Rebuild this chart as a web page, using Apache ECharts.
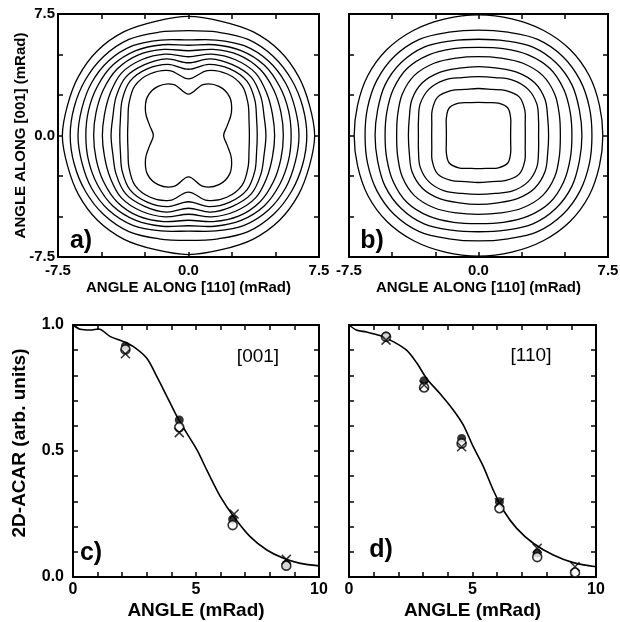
<!DOCTYPE html>
<html><head><meta charset="utf-8">
<script src="https://cdn.jsdelivr.net/npm/echarts/dist/echarts.min.js"></script>
<style>html,body{margin:0;padding:0;background:#fff}#c{width:620px;height:622px}</style>
</head><body><div id="c"></div>
<script>
// ---------- data ----------
// contour radii (mRad) sampled at these angles in the first quadrant, mirrored to the others
const contourAngles = [0, 15, 30, 45, 60, 75, 90];
const contoursA = [
  [7.25, 7.2, 7.3, 7.4, 7.4, 7.3, 7.35],
  [6.8, 6.8, 6.85, 6.9, 6.85, 6.6, 6.47],
  [6.35, 6.35, 6.45, 6.5, 6.4, 6.1, 5.9],
  [5.9, 5.95, 6.05, 6.15, 6.05, 5.8, 5.57],
  [5.45, 5.5, 5.65, 5.8, 5.75, 5.5, 5.23],
  [4.95, 5.0, 5.2, 5.45, 5.4, 5.2, 4.86],
  [4.45, 4.5, 4.8, 5.1, 5.05, 4.9, 4.49],
  [3.95, 4.05, 4.4, 4.75, 4.75, 4.55, 4.09],
  [3.5, 3.6, 3.95, 4.35, 4.4, 4.15, 3.49],
  [2.02, 2.3, 2.85, 3.35, 3.5, 3.25, 2.55]
];
const contoursB = [
  [7.2, 7.25, 7.4, 7.5, 7.5, 7.45, 7.44],
  [6.57, 6.65, 6.8, 6.9, 6.85, 6.6, 6.51],
  [5.99, 6.05, 6.25, 6.35, 6.3, 6.05, 5.94],
  [5.41, 5.5, 5.7, 5.85, 5.75, 5.55, 5.44],
  [4.74, 4.85, 5.1, 5.25, 5.15, 4.95, 4.87],
  [4.06, 4.15, 4.45, 4.6, 4.5, 4.3, 4.25],
  [3.48, 3.6, 3.9, 4.05, 3.95, 3.7, 3.63],
  [2.71, 2.8, 3.1, 3.35, 3.2, 2.95, 2.9],
  [1.86, 1.93, 2.15, 2.4, 2.3, 2.1, 2.05]
];
// panel c, [001]
const curveC = [[0,1.0],[0.3,0.983],[0.7,0.98],[1.04,0.984],[1.52,0.954],[2.06,0.934],[2.46,0.914],[3.0,0.868],[3.41,0.795],[3.82,0.716],[4.23,0.636],[4.63,0.57],[5.04,0.504],[5.44,0.424],[5.99,0.319],[6.53,0.24],[7.2,0.16],[7.88,0.107],[8.56,0.074],[9.24,0.054],[10,0.044]];
const filledC = [[2.13,0.917],[4.32,0.623],[6.49,0.229],[8.67,0.05]];
const openC = [[2.13,0.903],[4.32,0.594],[6.49,0.206],[8.67,0.045]];
const crossC = [[2.13,0.886],[4.32,0.573],[6.55,0.25],[8.67,0.07]];
// panel d, [110]
const curveD = [[0,1.0],[0.3,0.98],[0.71,0.972],[1.25,0.958],[1.79,0.934],[2.33,0.9],[2.74,0.85],[3.14,0.788],[3.68,0.728],[4.22,0.663],[4.63,0.603],[5.03,0.517],[5.44,0.438],[5.84,0.345],[6.25,0.265],[6.79,0.193],[7.46,0.134],[8.27,0.087],[9.08,0.057],[10,0.041]];
const filledD = [[1.5,0.956],[3.04,0.779],[4.56,0.55],[6.09,0.299],[7.62,0.095]];
const openD = [[1.5,0.953],[3.04,0.752],[4.56,0.53],[6.09,0.273],[7.62,0.079],[9.15,0.018]];
const crossD = [[1.5,0.94],[3.04,0.762],[4.56,0.517],[6.09,0.295],[7.62,0.114],[9.15,0.041]];

const contourTicks = ['-7.5', '0.0', '7.5'];
const profileXTicks = ['0', '5', '10'];
const profileYTicks = ['0.0', '0.5', '1.0'];

// ---------- chart ----------
const FONT = '"Liberation Sans", Arial, Helvetica, sans-serif';
const tick = {show:true, inside:true, length:5, lineStyle:{color:'#000', width:1.5}};
function fmtFrom(list, dec){
  return function(v){
    const s = (dec === 0) ? String(Math.round(v)) : v.toFixed(dec);
    const t = (s === '-0.0') ? '0.0' : s;
    return list.indexOf(t) >= 0 && Math.abs(v - parseFloat(t)) < 1e-6 ? t : '';
  };
}
function axis(o){
  const a = {
    type:'value', gridIndex:o.g, min:o.min, max:o.max, interval:o.iv,
    position:o.pos, axisLine:{show:false, onZero:false}, axisTick:tick, splitLine:{show:false},
    axisLabel:{show:!!o.fmt, formatter:o.fmt, fontSize:o.ls||15, fontWeight:'bold', color:'#000',
      fontFamily:FONT, margin:o.lm||6, showMinLabel:true, showMaxLabel:true},
    nameMoveOverlap:false
  };
  if (o.name){
    a.name = o.name; a.nameLocation='middle'; a.nameGap=o.ng;
    a.nameTextStyle = {fontSize:o.ns||15, fontWeight:'bold', color:'#000', fontFamily:FONT, padding:o.np||0};
  }
  return a;
}
const gridBox = {show:true, borderColor:'#000', borderWidth:2, backgroundColor:'transparent', containLabel:false, outerBoundsMode:'none'};
const grids = [
  Object.assign({left:58, top:14, width:261, height:243}, gridBox),
  Object.assign({left:349, top:14, width:259, height:243}, gridBox),
  Object.assign({left:73, top:325, width:246, height:252}, gridBox),
  Object.assign({left:349, top:325, width:247, height:252}, gridBox)
];
const fA = fmtFrom(contourTicks, 1), fX = fmtFrom(profileXTicks, 0), fY = fmtFrom(profileYTicks, 1);
const xAxes = [
  axis({g:0,min:-7.5,max:7.5,iv:2.5,pos:'bottom',fmt:fA,name:'ANGLE ALONG [110] (mRad)',ng:23}),
  axis({g:0,min:-7.5,max:7.5,iv:2.5,pos:'top'}),
  axis({g:1,min:-7.5,max:7.5,iv:2.5,pos:'bottom',fmt:fA,name:'ANGLE ALONG [110] (mRad)',ng:23}),
  axis({g:1,min:-7.5,max:7.5,iv:2.5,pos:'top'}),
  axis({g:2,min:0,max:10,iv:1,pos:'bottom',fmt:fX,ls:16,lm:5,name:'ANGLE (mRad)',ng:24,ns:19}),
  axis({g:2,min:0,max:10,iv:1,pos:'top'}),
  axis({g:3,min:0,max:10,iv:1,pos:'bottom',fmt:fX,ls:16,lm:5,name:'ANGLE (mRad)',ng:24,ns:19}),
  axis({g:3,min:0,max:10,iv:1,pos:'top'})
];
const yAxes = [
  axis({g:0,min:-7.5,max:7.5,iv:2.5,pos:'left',fmt:fA,lm:3,name:'ANGLE ALONG [001] (mRad)',ng:30}),
  axis({g:0,min:-7.5,max:7.5,iv:2.5,pos:'right'}),
  axis({g:1,min:-7.5,max:7.5,iv:2.5,pos:'left'}),
  axis({g:1,min:-7.5,max:7.5,iv:2.5,pos:'right'}),
  axis({g:2,min:0,max:1,iv:0.1,pos:'left',fmt:fY,ls:16,lm:9,name:'2D-ACAR (arb. units)',ng:44,ns:19,np:[0,0,0,16]}),
  axis({g:2,min:0,max:1,iv:0.1,pos:'right'}),
  axis({g:3,min:0,max:1,iv:0.1,pos:'left'}),
  axis({g:3,min:0,max:1,iv:0.1,pos:'right'})
];
function contourSeries(list, ai){
  return {
    type:'custom', coordinateSystem:'cartesian2d', xAxisIndex:ai, yAxisIndex:ai, silent:true, clip:true,
    data: list.map(function(r, i){ return [0, 0, i]; }),
    encode:{x:0, y:1},
    renderItem: function(params, api){
      const radii = list[params.dataIndex];
      const pts = [];
      const step = contourAngles[1] - contourAngles[0];
      const n = Math.round(360 / step);
      for (let k = 0; k < n; k++){
        const th = k * step;
        let phi;
        if (th <= 90) phi = th; else if (th <= 180) phi = 180 - th; else if (th <= 270) phi = th - 180; else phi = 360 - th;
        const r = radii[contourAngles.indexOf(phi)];
        const rad = th * Math.PI / 180;
        pts.push(api.coord([r * Math.cos(rad), r * Math.sin(rad)]));
      }
      return {type:'polygon', shape:{points:pts, smooth:0.35}, style:{fill:'none', stroke:'#000', lineWidth:1.3}};
    }
  };
}
function curve(data, ai){
  return {type:'line', xAxisIndex:ai, yAxisIndex:ai, data:data, smooth:0.3, symbol:'none', silent:true,
    lineStyle:{color:'#000', width:1.6}, z:2};
}
function marks(data, ai, kind){
  const s = {type:'scatter', xAxisIndex:ai, yAxisIndex:ai, data:data, silent:true, symbolSize:9, z:3};
  if (kind === 'filled'){ s.symbol='circle'; s.itemStyle={color:'#000'}; }
  if (kind === 'open'){ s.symbol='circle'; s.itemStyle={color:'#fff', borderColor:'#000', borderWidth:1.6}; s.z=4; }
  if (kind === 'cross'){ s.symbol='path://M0,0L10,10M10,0L0,10'; s.symbolSize=9; s.itemStyle={color:'none', borderColor:'#000', borderWidth:1.5}; s.z=5; }
  return s;
}
function txt(t, x, y, size, weight){
  return {type:'text', x:x, y:y, z:10, style:{text:t, fontSize:size, fontWeight:weight, fontFamily:FONT, fill:'#000',
    textAlign:'center', textVerticalAlign:'middle', align:'center', verticalAlign:'middle'}};
}
const option = {
  animation:false,
  backgroundColor:'#fff',
  grid: grids, xAxis: xAxes, yAxis: yAxes,
  series: [
    contourSeries(contoursA, 0),
    contourSeries(contoursB, 2),
    curve(curveC, 4), marks(filledC, 4, 'filled'), marks(openC, 4, 'open'), marks(crossC, 4, 'cross'),
    curve(curveD, 6), marks(filledD, 6, 'filled'), marks(openD, 6, 'open'), marks(crossD, 6, 'cross')
  ],
  graphic: [
    txt('a)', 81, 241, 25, 'bold'),
    txt('b)', 372, 241, 25, 'bold'),
    txt('c)', 91, 553, 25, 'bold'),
    txt('d)', 381, 550, 25, 'bold'),
    txt('[001]', 258, 357, 19, 'normal'),
    txt('[110]', 531, 356, 19, 'normal')
  ]
};
const chart = echarts.init(document.getElementById('c'), null, {renderer:'canvas'});
chart.setOption(option);
</script></body></html>
